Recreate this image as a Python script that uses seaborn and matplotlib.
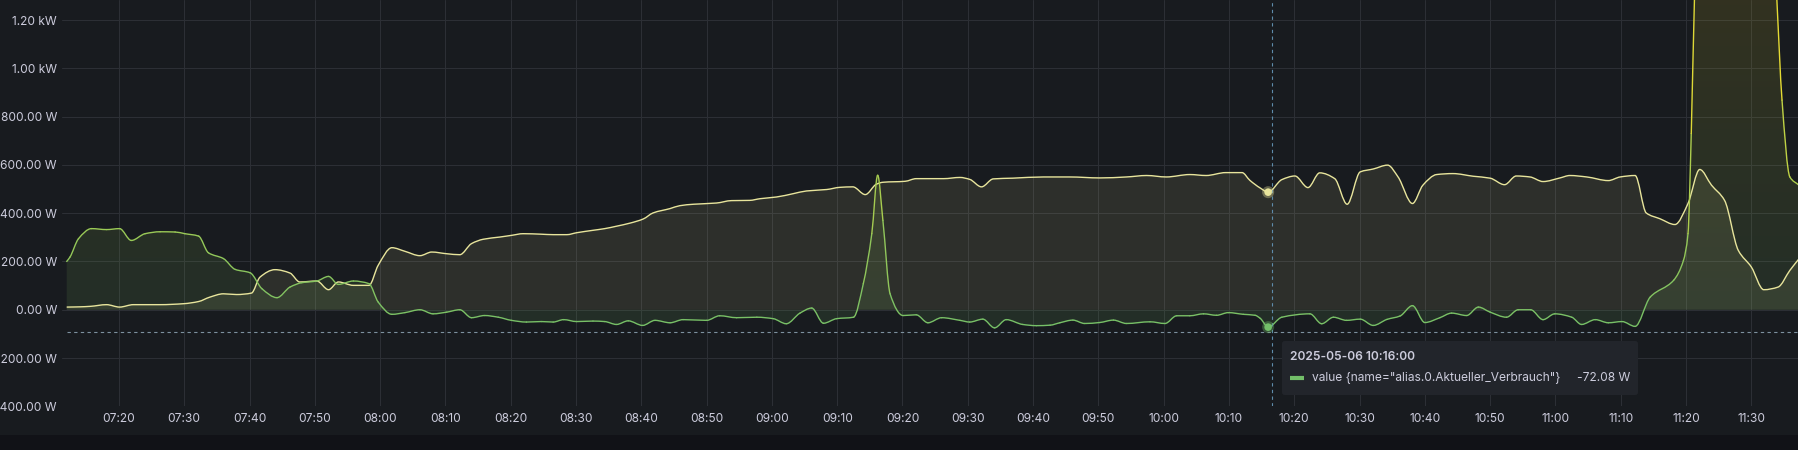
import numpy as np
import pandas as pd
import matplotlib
matplotlib.use("Agg")
import matplotlib.pyplot as plt
import seaborn as sns
from matplotlib.colors import LinearSegmentedColormap, Normalize
from matplotlib.lines import Line2D
from matplotlib.path import Path
from matplotlib.patches import FancyBboxPatch, Rectangle, PathPatch
from matplotlib.ticker import FixedLocator, FuncFormatter

# time axis: minutes after 07:12 on 2025-05-06
START = pd.Timestamp("2025-05-06 07:12:00")

# pale yellow series (W)
pale_t = [0, 2, 3.6, 6.1, 8.1, 10.2, 14.3, 17.9, 20.2, 21.9, 24, 26, 28.3, 29.6, 31.9,
          34.2, 35.7, 38.3, 40.1, 41.6, 43.9, 46.3, 47.7, 49.8, 51.8, 54.1, 55.9, 58.2,
          60.2, 62, 63.8, 66.3, 68.1, 69.9, 72.6, 74.5, 76.6, 78.1, 80.6, 82.4, 84.2,
          86.3, 88.3, 89.8, 92.4, 93.9, 96, 99.5, 101.8, 104.6, 106.2, 108.7, 111.3,
          113.3, 116.4, 118.4, 120.4, 122.3, 124, 125, 128.4, 130.1, 134.3, 136.8,
          138.3, 140.1, 141.9, 144.9, 149.6, 153.6, 158.2, 162.3, 165.4, 168.4, 172,
          174.5, 177.5, 180, 181.2, 182.8, 184, 186.1, 188.1, 190.1, 191.9, 194.2,
          196.1, 198.1, 200.1, 202.3, 203.9, 206.1, 207.7, 209.8, 212.3, 215.4, 218,
          220.2, 222, 224.1, 226.1, 228.7, 230.2, 232.8, 236.1, 237.9, 240.2, 241.9,
          244, 246.3, 248.3, 250.1, 251.9, 253.9, 256, 258, 259.9, 262.1, 263.9, 265.3]
pale_w = [11, 12, 14, 21, 11, 21, 21, 25, 34, 52, 66, 63, 69, 135, 166,
          152, 115, 119, 83, 115, 101, 101, 184, 257, 242, 224, 239, 232,
          228, 274, 292, 301, 308, 315, 313, 311, 311, 319, 329, 336, 346,
          359, 376, 401, 419, 431, 437, 442, 452, 453, 460, 467, 481,
          492, 498, 507, 509, 477, 520, 528, 532, 543, 543, 548,
          540, 509, 542, 545, 550, 550, 546, 550, 556, 550, 560,
          556, 568, 568, 536, 504, 487, 539, 554, 506, 567, 543,
          437, 571, 583, 599, 550, 440, 516, 560, 564, 553, 545,
          518, 554, 550, 531, 546, 556, 550, 535, 550, 556, 401,
          377, 353, 440, 581, 516, 453, 246, 177, 83, 94, 163, 211]

# green series: value {name="alias.0.Aktueller_Verbrauch"} (W)
verbrauch_t = [0, 0.5, 1.8, 3.8, 6.1, 8.1, 9.9, 12, 14.3, 16.6, 18.1, 20.2, 21.7, 24, 25.8,
               28.1, 29.9, 32.2, 34.2, 36, 38.3, 40.1, 41.6, 43.9, 46.3, 47.7, 49.8, 51.8,
               54.1, 56.1, 58.2, 60.2, 62, 64, 66.1, 68.1, 70.4, 72.7, 74.5, 76.1, 78.1,
               80.6, 82.4, 84.2, 86, 88.2, 90.1, 92.4, 94.4, 98, 100, 102.6, 105.7, 108.2,
               110.2, 112.3, 114.1, 115.9, 117.9, 120.5, 122, 123.3, 124.2, 125, 126.1,
               128.1, 130.1, 131.9, 134, 136.8, 138.3, 140.3, 142.1, 143.9, 146.4, 148.5,
               150.6, 152.1, 154.1, 155.9, 158.2, 160.3, 162.3, 165.9, 168.2, 170, 172,
               174.1, 176.1, 177.9, 180.2, 182, 182.8, 184, 186.1, 190.4, 192.2, 194, 196,
               198.1, 200.1, 202.2, 204.2, 206.1, 208, 210.3, 212.1, 214.4, 216.2, 218,
               220.5, 222.3, 224.2, 226.1, 227.9, 230.5, 232, 234.1, 236.1, 238.2, 240.2,
               242.5, 246.1, 247.6, 248.3, 248.8, 249.3, 250, 252, 255, 258, 261, 261.9,
               262.7, 263.9, 265.3]
verbrauch_w = [200, 218, 294, 336, 332, 336, 287, 315, 323, 322, 315, 305, 236, 212, 167,
               153, 87, 50, 94, 112, 119, 138, 105, 119, 108, 32, -19, -12,
               0, -17, -10, 0, -33, -24, -31, -44, -51, -49, -51, -41, -49,
               -47, -49, -61, -46, -65, -44, -54, -41, -44, -25, -33, -31, -37,
               -58, -14, 7, -56, -37, -31, 108, 315, 557, 370, 66,
               -24, -21, -54, -33, -44, -51, -39, -75, -41, -61, -66,
               -64, -54, -43, -57, -53, -43, -57, -50, -57, -25, -25,
               -17, -23, -12, -19, -23, -36, -72.08, -31, -17, -58, -31, -44,
               -39, -65, -40, -26, 17, -53, -33, -14, -24, 11, -10,
               -31, 0, 0, -41, -17, -31, -61, -41, -54, -49, -69,
               52, 122, 204, 315, 730, 1300, 1800, 1950, 1950, 1900, 1800, 1290,
               868, 550, 516]

y_ticks = [-400, -200, 0, 200, 400, 600, 800, 1000, 1200]
y_labels = ["-400.00 W", "-200.00 W", "0.00 W", "200.00 W", "400.00 W",
            "600.00 W", "800.00 W", "1.00 kW", "1.20 kW"]
x_ticks = list(range(8, 260, 10))  # 07:20 ... 11:30

# hover state
cursor_t = 184.6
cursor_w = -91
hover_t = 184
tooltip_time = "2025-05-06 10:16:00"
tooltip_name = 'value {name="alias.0.Aktueller_Verbrauch"}'
tooltip_value = "-72.08 W"

BG = "#181b1f"
GRID = "#2c2f35"
TEXT = "#ccccdc"
PALE = "#e8e59c"
GREEN = "#73bf69"
YELLOW = "#fade2a"
W, H = 1799, 450
XMIN, XMAX = -0.72, 265.3
YMIN, YMAX = -400, 1283


def bezier_segments(x, y):
    """Monotone cubic (smooth line style) as bezier control points per segment."""
    x = np.asarray(x, float)
    y = np.asarray(y, float)
    h = np.diff(x)
    d = np.diff(y) / h
    m = np.zeros_like(y)
    m[0], m[-1] = d[0], d[-1]
    for k in range(1, len(y) - 1):
        if d[k - 1] * d[k] > 0:
            w1 = 2 * h[k] + h[k - 1]
            w2 = h[k] + 2 * h[k - 1]
            m[k] = (w1 + w2) / (w1 / d[k - 1] + w2 / d[k])
    segs = []
    for k in range(len(h)):
        p0 = (x[k], y[k])
        p1 = (x[k] + h[k] / 3, y[k] + m[k] * h[k] / 3)
        p2 = (x[k + 1] - h[k] / 3, y[k + 1] - m[k + 1] * h[k] / 3)
        p3 = (x[k + 1], y[k + 1])
        segs.append((p0, p1, p2, p3))
    return segs


def area_path(segs):
    verts = [(segs[0][0][0], 0), segs[0][0]]
    codes = [Path.MOVETO, Path.LINETO]
    for _, p1, p2, p3 in segs:
        verts += [p1, p2, p3]
        codes += [Path.CURVE4] * 3
    verts += [(segs[-1][3][0], 0), (0, 0)]
    codes += [Path.LINETO, Path.CLOSEPOLY]
    return Path(verts, codes)


def line_path(segs):
    verts = [segs[0][0]]
    codes = [Path.MOVETO]
    for _, p1, p2, p3 in segs:
        verts += [p1, p2, p3]
        codes += [Path.CURVE4] * 3
    return Path(verts, codes)


sns.set_style("dark", {"axes.facecolor": BG, "figure.facecolor": BG})
plt.rcParams["font.family"] = ["Inter", "DejaVu Sans"]

fig = plt.figure(figsize=(W / 100, H / 100), dpi=100, facecolor=BG)
ax = fig.add_axes([62 / W, (H - 406.3) / H, 1 - 62 / W, 406.3 / H])
ax.set_facecolor(BG)

line_cmap = LinearSegmentedColormap.from_list("gy", [GREEN, "#b4d04a", YELLOW])
norm = Normalize(-100, 1300, clip=True)

# pale series: fill + smooth line
pale_segs = bezier_segments(pale_t, pale_w)
ax.add_patch(PathPatch(area_path(pale_segs), facecolor=PALE, alpha=0.1, lw=0, zorder=2))
ax.add_patch(PathPatch(line_path(pale_segs), facecolor="none", edgecolor=PALE,
                       lw=1.0, zorder=4))

# green series: gradient-by-value fill + smooth line coloured by value
green_segs = bezier_segments(verbrauch_t, verbrauch_w)
green_area = PathPatch(area_path(green_segs), facecolor="none", edgecolor="none")
ax.add_patch(green_area)
grad = np.linspace(YMIN, YMAX, 300).reshape(-1, 1)
rgba = line_cmap(norm(grad))
rgba[..., 3] = 0.12
img = ax.imshow(rgba, extent=[XMIN, XMAX, YMIN, YMAX], origin="lower",
                aspect="auto", zorder=2, interpolation="bilinear")
img.set_clip_path(green_area)

for seg in green_segs:
    c = line_cmap(norm((seg[0][1] + seg[3][1]) / 2))
    p = Path(list(seg), [Path.MOVETO, Path.CURVE4, Path.CURVE4, Path.CURVE4])
    ax.add_patch(PathPatch(p, facecolor="none", edgecolor=c, lw=1.0,
                           capstyle="round", zorder=5))

# crosshair
ax.axvline(cursor_t, color="#5f8cab", lw=0.8, ls=(0, (3, 3)), zorder=6)
ax.axhline(cursor_w, xmin=(0 - XMIN) / (XMAX - XMIN), color="#7d919f", lw=0.8,
           ls=(0, (3, 3)), zorder=6)

# hover markers
i_p = pale_t.index(hover_t)
i_g = verbrauch_t.index(hover_t)
hover = pd.DataFrame({
    "t": [hover_t, hover_t],
    "w": [pale_w[i_p], verbrauch_w[i_g]],
    "series": ["pale", "verbrauch"],
})
pal = {"pale": PALE, "verbrauch": GREEN}
sns.scatterplot(data=hover, x="t", y="w", hue="series", palette=pal, s=75, alpha=0.35,
                linewidth=0, legend=False, ax=ax, zorder=7)
sns.scatterplot(data=hover, x="t", y="w", hue="series", palette=pal, s=30,
                linewidth=0, legend=False, ax=ax, zorder=8)

ax.set_xlim(XMIN, XMAX)
ax.set_ylim(YMIN, YMAX)
ax.yaxis.set_major_locator(FixedLocator(y_ticks))
ax.set_yticklabels(y_labels)
ax.xaxis.set_major_locator(FixedLocator(x_ticks))
ax.xaxis.set_major_formatter(FuncFormatter(
    lambda x, pos: (START + pd.Timedelta(minutes=x)).strftime("%H:%M")))
ax.tick_params(axis="both", length=0, labelsize=8.64, colors=TEXT)
ax.tick_params(axis="x", pad=5)
ax.tick_params(axis="y", pad=3.6)
ax.grid(True, color=GRID, lw=0.75)
ax.set_axisbelow(True)
for s in ax.spines.values():
    s.set_visible(False)
ax.set_xlabel("")
ax.set_ylabel("")

# tooltip
fx = lambda px: px / W
fy = lambda py: 1 - py / H
box = FancyBboxPatch((fx(1282), fy(395)), fx(1638) - fx(1282), (395 - 341) / H,
                     boxstyle="round,pad=0,rounding_size=0.0015", mutation_aspect=W / H,
                     transform=fig.transFigure, facecolor="#22252b", edgecolor="none",
                     zorder=10)
fig.add_artist(box)
fig.text(fx(1290), fy(357.5), tooltip_time, color=TEXT, fontsize=8.64,
         fontweight="semibold", va="center", ha="left", zorder=11)
fig.add_artist(Line2D([fx(1290), fx(1304)], [fy(377.7), fy(377.7)], color=GREEN,
                      lw=3, solid_capstyle="butt", transform=fig.transFigure, zorder=11))
fig.text(fx(1312), fy(377.7), tooltip_name, color=TEXT, fontsize=8.64,
         va="center", ha="left", zorder=11)
fig.text(fx(1630), fy(377.7), tooltip_value, color=TEXT, fontsize=8.64,
         va="center", ha="right", zorder=11)

# dark strip at the bottom of the panel
fig.add_artist(Rectangle((0, 0), 1, 15 / H, transform=fig.transFigure,
                         facecolor="#111217", edgecolor="none", zorder=0))

fig.savefig("out.png", dpi=100, facecolor=BG)
